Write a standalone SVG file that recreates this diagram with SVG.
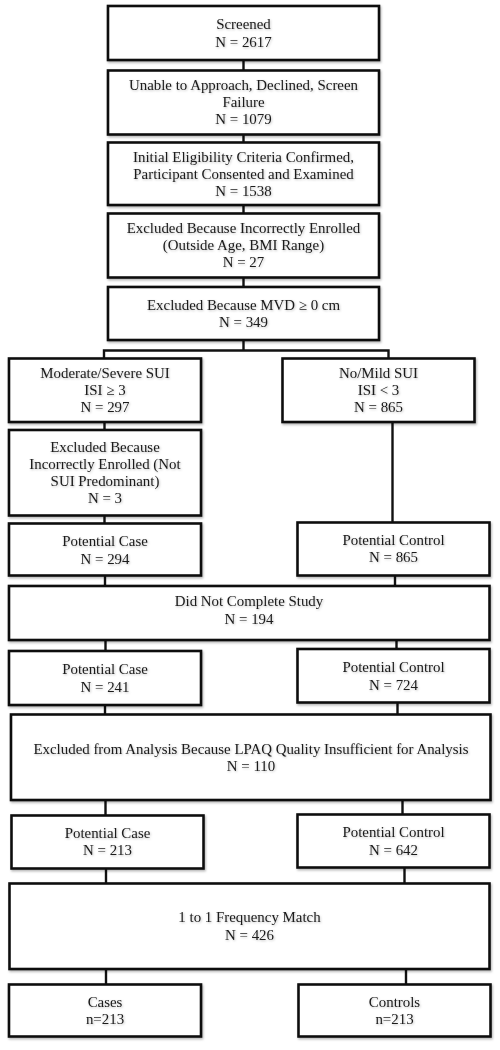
<svg xmlns="http://www.w3.org/2000/svg" width="500" height="1050" viewBox="0 0 500 1050">
<defs>
<filter id="sh" x="-10%" y="-10%" width="120%" height="130%">
<feDropShadow dx="1" dy="1.5" stdDeviation="1" flood-color="#000" flood-opacity="0.3"/>
</filter>
<filter id="tsh" x="-5%" y="-20%" width="110%" height="150%">
<feDropShadow dx="0.8" dy="1" stdDeviation="0.8" flood-color="#000" flood-opacity="0.25"/>
</filter>
<style>
rect{fill:#fff;stroke:#111;stroke-width:2.6;filter:url(#sh)}
text{font-family:"Liberation Serif","Times New Roman",serif;font-size:14.9px;fill:#1a1a1a;text-anchor:middle;filter:url(#tsh)}
#connectors path{fill:none;stroke:#111;stroke-width:2.4}
</style>
</defs>
<rect width="500" height="1050" style="fill:#fff;stroke:none;filter:none"/>
<g id="connectors">
<path d="M243.5 60V70.5"/>
<path d="M243.5 134.5V142.5"/>
<path d="M243.5 205V213.5"/>
<path d="M243.5 277.5V287"/>
<path d="M243.5 340V350.5M104 358.5V350.5H388.5V358.5"/>
<path d="M104.5 422V430"/>
<path d="M104.5 515.5V523.5"/>
<path d="M392.5 422V522.5"/>
<path d="M105 575.5V586"/>
<path d="M395 575.5V586"/>
<path d="M105.5 640V651"/>
<path d="M396.5 640V649"/>
<path d="M105 705V714.5"/>
<path d="M397.5 702.5V714.5"/>
<path d="M105.5 800V815.5"/>
<path d="M402.5 800V814.5"/>
<path d="M106 868.5V883.5"/>
<path d="M404.5 867.5V883.5"/>
<path d="M106 969V984.5"/>
<path d="M406 969V984.5"/>
</g>
<g id="screened">
<rect x="108" y="6" width="271" height="54"/>
<text x="243.5" y="29">Screened</text>
<text x="243.5" y="47">N = 2617</text>
</g>
<g id="unable">
<rect x="108" y="70.5" width="271" height="64"/>
<text x="243.5" y="90">Unable to Approach, Declined, Screen</text>
<text x="243.5" y="107">Failure</text>
<text x="243.5" y="124">N = 1079</text>
</g>
<g id="initial">
<rect x="108" y="142.5" width="271" height="62.5"/>
<text x="243.5" y="162">Initial Eligibility Criteria Confirmed,</text>
<text x="243.5" y="178.5">Participant Consented and Examined</text>
<text x="243.5" y="195.5">N = 1538</text>
</g>
<g id="excluded-age">
<rect x="108" y="213.5" width="271" height="64"/>
<text x="243.5" y="233">Excluded Because Incorrectly Enrolled</text>
<text x="243.5" y="250">(Outside Age, BMI Range)</text>
<text x="243.5" y="267">N = 27</text>
</g>
<g id="excluded-mvd">
<rect x="108" y="287" width="271" height="53"/>
<text x="243.5" y="309.5">Excluded Because MVD ≥ 0 cm</text>
<text x="243.5" y="327">N = 349</text>
</g>
<g id="moderate">
<rect x="9" y="358.5" width="192" height="63.5"/>
<text x="105" y="377.5">Moderate/Severe SUI</text>
<text x="105" y="395">ISI ≥ 3</text>
<text x="105" y="412">N = 297</text>
</g>
<g id="nomild">
<rect x="282.5" y="358.5" width="192" height="63.5"/>
<text x="378.5" y="377.5">No/Mild SUI</text>
<text x="378.5" y="395">ISI &lt; 3</text>
<text x="378.5" y="412">N = 865</text>
</g>
<g id="excluded-sui">
<rect x="9" y="430" width="192" height="85.5"/>
<text x="105" y="452">Excluded Because</text>
<text x="105" y="468.5">Incorrectly Enrolled (Not</text>
<text x="105" y="485.5">SUI Predominant)</text>
<text x="105" y="502.5">N = 3</text>
</g>
<g id="case1">
<rect x="9" y="523.5" width="192" height="52"/>
<text x="105" y="546">Potential Case</text>
<text x="105" y="563.5">N = 294</text>
</g>
<g id="control1">
<rect x="297.5" y="522.5" width="192" height="53"/>
<text x="393.5" y="545">Potential Control</text>
<text x="393.5" y="562">N = 865</text>
</g>
<g id="did-not-complete">
<rect x="9" y="586" width="480.5" height="54"/>
<text x="249" y="606">Did Not Complete Study</text>
<text x="249" y="623.5">N = 194</text>
</g>
<g id="case2">
<rect x="9" y="651" width="192" height="54"/>
<text x="105" y="674">Potential Case</text>
<text x="105" y="692">N = 241</text>
</g>
<g id="control2">
<rect x="297.5" y="649" width="192" height="53.5"/>
<text x="393.5" y="672">Potential Control</text>
<text x="393.5" y="689.5">N = 724</text>
</g>
<g id="excluded-lpaq">
<rect x="11" y="714.5" width="479.5" height="85.5"/>
<text x="251" y="753.5">Excluded from Analysis Because LPAQ Quality Insufficient for Analysis</text>
<text x="251" y="770.5">N = 110</text>
</g>
<g id="case3">
<rect x="11.5" y="815.5" width="192" height="53"/>
<text x="107.5" y="837.5">Potential Case</text>
<text x="107.5" y="855">N = 213</text>
</g>
<g id="control3">
<rect x="297.5" y="814.5" width="192" height="53"/>
<text x="393.5" y="837">Potential Control</text>
<text x="393.5" y="854.5">N = 642</text>
</g>
<g id="frequency-match">
<rect x="9.5" y="883.5" width="480" height="85.5"/>
<text x="249.5" y="922">1 to 1 Frequency Match</text>
<text x="249.5" y="939.5">N = 426</text>
</g>
<g id="cases">
<rect x="9" y="984.5" width="192" height="52"/>
<text x="105" y="1007">Cases</text>
<text x="105" y="1024">n=213</text>
</g>
<g id="controls">
<rect x="298.5" y="984.5" width="192" height="52"/>
<text x="394.5" y="1007">Controls</text>
<text x="394.5" y="1024">n=213</text>
</g>
</svg>
